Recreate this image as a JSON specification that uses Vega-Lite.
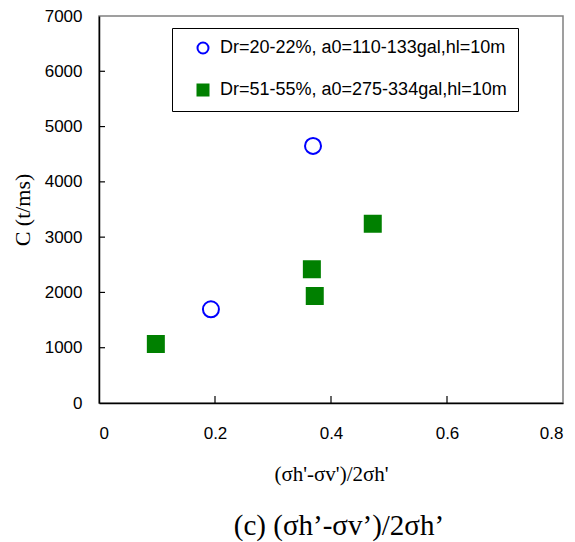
{
  "$schema": "https://vega.github.io/schema/vega-lite/v6.json",
  "width": 464,
  "height": 387,
  "autosize": "none",
  "padding": {"left": 99, "top": 16, "right": 12, "bottom": 139},
  "background": "white",
  "config": {
    "view": {"stroke": "#808080", "strokeWidth": 1.5},
    "axis": {
      "grid": false,
      "zindex": 1,
      "ticks": false,
      "domainColor": "#000000",
      "domainWidth": 1.5,
      "labelFont": "Liberation Sans",
      "labelFontSize": 17,
      "labelColor": "#000000",
      "titleFont": "Liberation Serif",
      "titleFontWeight": "normal",
      "titleColor": "#000000"
    }
  },
  "title": {
    "text": "(c) (σh’-σv’)/2σh’",
    "orient": "bottom",
    "frame": "group",
    "anchor": "middle",
    "font": "Liberation Serif",
    "fontSize": 29,
    "fontWeight": "normal",
    "color": "#000000",
    "offset": 28,
    "dx": 8
  },
  "layer": [
    {
      "data": {
        "values": [
          {"ratio": 0.193, "C": 1695, "series": "Dr=20-22%, a0=110-133gal,hl=10m"},
          {"ratio": 0.369, "C": 4650, "series": "Dr=20-22%, a0=110-133gal,hl=10m"},
          {"ratio": 0.098, "C": 1067, "series": "Dr=51-55%, a0=275-334gal,hl=10m"},
          {"ratio": 0.367, "C": 2418, "series": "Dr=51-55%, a0=275-334gal,hl=10m"},
          {"ratio": 0.372, "C": 1935, "series": "Dr=51-55%, a0=275-334gal,hl=10m"},
          {"ratio": 0.472, "C": 3243, "series": "Dr=51-55%, a0=275-334gal,hl=10m"}
        ]
      },
      "mark": {"type": "point", "size": 256, "strokeWidth": 2, "opacity": 1},
      "encoding": {
        "x": {
          "field": "ratio",
          "type": "quantitative",
          "scale": {"domain": [0, 0.8], "nice": false},
          "axis": {
            "values": [0, 0.2, 0.4, 0.6, 0.8],
            "format": "~g",
            "labelPadding": 22,
            "title": "(σh'-σv')/2σh'",
            "titleFontSize": 21,
            "titlePadding": 22
          }
        },
        "y": {
          "field": "C",
          "type": "quantitative",
          "scale": {"domain": [0, 7000], "nice": false},
          "axis": {
            "values": [0, 1000, 2000, 3000, 4000, 5000, 6000, 7000],
            "format": "d",
            "labelPadding": 17,
            "title": "C (t/ms)",
            "titleFontSize": 22,
            "titlePadding": 10
          }
        },
        "shape": {
          "field": "series",
          "type": "nominal",
          "scale": {"domain": ["Dr=20-22%, a0=110-133gal,hl=10m", "Dr=51-55%, a0=275-334gal,hl=10m"], "range": ["circle", "square"]},
          "legend": {
            "title": null,
            "orient": "none",
            "legendX": 73,
            "legendY": 12,
            "strokeColor": "#000000",
            "fillColor": "white",
            "padding": 11,
            "symbolOffset": 11,
            "symbolSize": 121,
            "symbolStrokeWidth": 2,
            "labelOffset": 8,
            "rowPadding": 22,
            "labelFont": "Liberation Sans",
            "labelFontSize": 18,
            "labelColor": "#000000",
            "labelLimit": 400
          }
        },
        "stroke": {
          "field": "series",
          "type": "nominal",
          "scale": {"domain": ["Dr=20-22%, a0=110-133gal,hl=10m", "Dr=51-55%, a0=275-334gal,hl=10m"], "range": ["#0000ff", "#008000"]},
          "legend": null
        },
        "fill": {
          "field": "series",
          "type": "nominal",
          "scale": {"domain": ["Dr=20-22%, a0=110-133gal,hl=10m", "Dr=51-55%, a0=275-334gal,hl=10m"], "range": ["transparent", "#008000"]},
          "legend": null
        }
      }
    },
    {
      "data": {"values": [{"tick": 0.2}, {"tick": 0.4}, {"tick": 0.6}]},
      "mark": {"type": "tick", "orient": "vertical", "size": 7, "thickness": 1.2, "yOffset": -3.5, "color": "#000000", "opacity": 1},
      "encoding": {
        "x": {"field": "tick", "type": "quantitative"},
        "y": {"datum": 0, "type": "quantitative"}
      }
    },
    {
      "data": {"values": [{"tick": 1000}, {"tick": 2000}, {"tick": 3000}, {"tick": 4000}, {"tick": 5000}, {"tick": 6000}]},
      "mark": {"type": "tick", "orient": "horizontal", "size": 6, "thickness": 1.2, "xOffset": 3, "color": "#000000", "opacity": 1},
      "encoding": {
        "y": {"field": "tick", "type": "quantitative"},
        "x": {"datum": 0, "type": "quantitative"}
      }
    }
  ]
}
